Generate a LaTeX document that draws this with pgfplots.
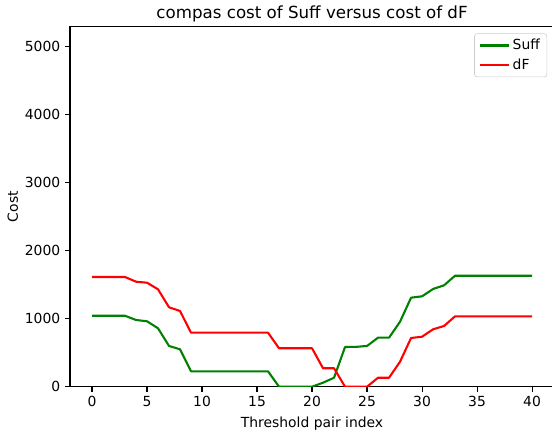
\documentclass[border=0pt]{standalone}
\usepackage{fontspec}
\setmainfont{DejaVu Sans}
\usepackage{pgfplots}
\pgfplotsset{compat=1.18}
\definecolor{mplgreen}{rgb}{0,0.5,0}
\definecolor{mplred}{rgb}{1,0,0}
\begin{document}
\begin{tikzpicture}
\begin{axis}[
  name=ax,
  scale only axis,
  width=348.5pt, height=259.2pt,
  xmin=-2, xmax=42, ymin=0, ymax=5294,
  xtick={0,5,...,40}, ytick={0,1000,...,5000},
  xtick pos=bottom, ytick pos=left,
  axis line style={line width=0.8pt},
  tick style={line width=0.8pt, black},
  tick align=outside, major tick length=3.5pt,
  /pgf/number format/assume math mode=true,
  /pgf/number format/1000 sep={},
  ticklabel style={font=\fontsize{10}{12}\selectfont},
  xlabel={Threshold pair index}, ylabel={Cost},
  ylabel style={yshift=-2pt},
  label style={font=\fontsize{10}{12}\selectfont},
  title={compas cost of Suff versus cost of dF},
  title style={font=\fontsize{12}{14}\selectfont, yshift=-6.5pt},
  legend style={at={(1,1)}, anchor=north east, xshift=-5pt, yshift=-4.8pt,
    draw=black!20, rounded corners=2pt, font=\fontsize{10}{12}\selectfont,
    row sep=1pt, inner xsep=3pt, inner ysep=2pt},
  legend cell align=left,
  legend image code/.code={\draw[#1, line width=1.5pt] (0pt,0pt) -- (21pt,0pt);},
  every axis plot/.append style={line width=1.5pt, line join=round},
]
\addplot[mplgreen, mark=none] coordinates {
(0,1043)(1,1043)(2,1043)(3,1043)(4,981)(5,962)(6,859)(7,599)(8,550)
(9,226)(10,226)(11,226)(12,226)(13,226)(14,226)(15,226)(16,226)
(17,0)(18,0)(19,0)(20,0)(21,59)(22,132)(23,584)(24,586)(25,599)
(26,721)(27,721)(28,956)(29,1309)(30,1329)(31,1437)(32,1491)
(33,1632)(34,1632)(35,1632)(36,1632)(37,1632)(38,1632)(39,1632)(40,1632)};
\addlegendentry{Suff}
\addplot[mplred, mark=none] coordinates {
(0,1613)(1,1613)(2,1613)(3,1613)(4,1544)(5,1529)(6,1432)(7,1168)(8,1113)
(9,794)(10,794)(11,794)(12,794)(13,794)(14,794)(15,794)(16,794)
(17,565)(18,565)(19,565)(20,565)(21,271)(22,271)(23,0)(24,0)(25,0)
(26,132)(27,132)(28,368)(29,716)(30,735)(31,844)(32,893)
(33,1035)(34,1035)(35,1035)(36,1035)(37,1035)(38,1035)(39,1035)(40,1035)};
\addlegendentry{dF}
\end{axis}
\pgfresetboundingbox
\path[use as bounding box] ([xshift=-50.4pt,yshift=-32.6pt]ax.south west) rectangle ([xshift=347.0pt,yshift=19.2pt]ax.north west);
\end{tikzpicture}
\end{document}
